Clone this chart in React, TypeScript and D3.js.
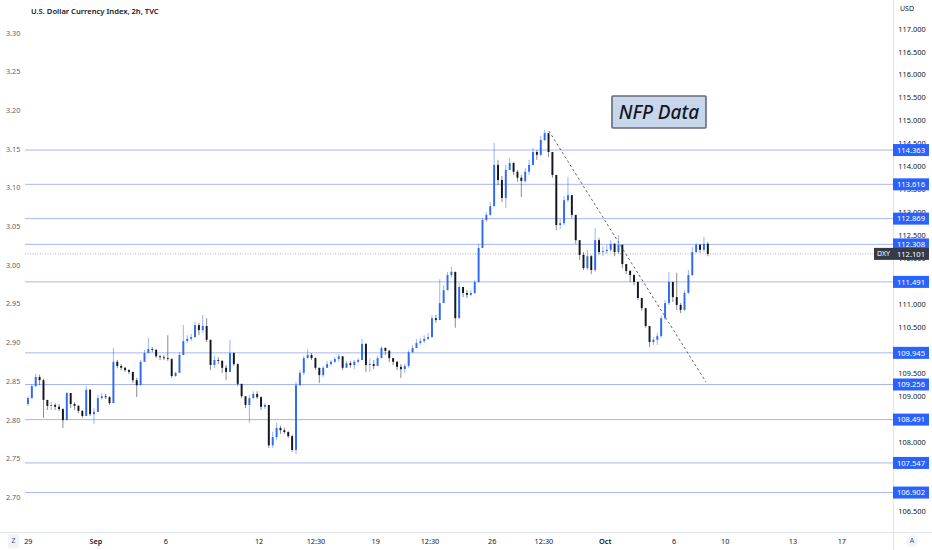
import React from 'react';
import * as d3 from 'd3';

// DXY 4h candles, trading day 0 = Aug 29. open of each candle = previous close
const firstOpen = 108.83;
const closes = [
  108.96, 109.22, 109.42, 109.35, 108.92, 108.79, 108.81, 108.77, 108.72, 108.48,
  109.07, 108.83, 108.79, 108.68, 108.57, 109.14, 108.61, 108.66, 108.96, 109.0,
  108.98, 108.85, 109.75, 109.66, 109.62, 109.57, 109.53, 109.35, 109.24, 109.75,
  109.94, 110.03, 110.01, 109.87, 109.85, 109.83, 109.81, 109.44, 109.51, 109.9,
  110.2, 110.25, 110.29, 110.55, 110.44, 110.53, 110.23, 109.68, 109.79, 109.77,
  109.62, 109.53, 109.94, 109.7, 109.27, 109.0, 108.81, 108.96, 109.05, 108.98,
  108.77, 108.81, 107.93, 108.11, 108.31, 108.26, 108.22, 108.13, 107.83, 109.24,
  109.51, 109.83, 109.9, 109.83, 109.62, 109.46, 109.62, 109.7, 109.75, 109.81,
  109.87, 109.62, 109.72, 109.68, 109.75, 109.79, 110.14, 109.68, 109.7, 109.66,
  109.83, 110.05, 109.99, 109.83, 109.75, 109.64, 109.59, 109.66, 109.96, 110.05,
  110.16, 110.2, 110.25, 110.29, 110.7, 110.66, 111.03, 111.31, 111.64, 111.71,
  110.7, 111.38, 111.25, 111.21, 111.25, 111.49, 112.23, 112.84, 112.95, 113.14,
  114.04, 113.71, 113.32, 113.93, 114.08, 113.89, 113.76, 113.69, 113.89, 114.04,
  114.32, 114.26, 114.58, 114.73, 114.32, 113.82, 112.73, 112.77, 113.27, 113.38,
  112.95, 112.4, 112.08, 111.79, 112.05, 111.75, 112.4, 112.14, 112.16, 112.19,
  112.32, 112.14, 112.3, 111.88, 111.73, 111.64, 111.49, 111.14, 110.92, 110.53,
  110.18, 110.23, 110.31, 110.7, 111.03, 111.49, 111.16, 110.99, 110.88, 111.25,
  111.64, 112.14, 112.3, 112.19, 112.32, 112.1,
];
const highs = [
  109.0, 109.27, 109.49, 109.47, 109.38, 108.92, 108.87, 108.85, 108.83, 108.74,
  109.09, 109.03, 108.87, 108.81, 108.7, 109.22, 109.16, 108.74, 109.03, 109.07,
  109.05, 109.0, 110.05, 109.79, 109.7, 109.64, 109.59, 109.53, 109.4, 109.79,
  110.01, 110.27, 110.07, 110.03, 109.9, 109.9, 110.33, 109.83, 109.53, 109.96,
  110.55, 110.33, 110.36, 110.62, 110.6, 110.77, 110.7, 110.23, 109.88, 109.85,
  109.79, 109.68, 110.23, 109.96, 109.72, 109.24, 109.0, 109.03, 109.11, 109.11,
  109.0, 108.85, 108.81, 108.22, 108.42, 108.36, 108.31, 108.24, 108.16, 109.31,
  109.57, 109.88, 110.03, 109.94, 109.85, 109.62, 109.66, 109.77, 109.79, 109.85,
  109.92, 109.87, 109.77, 109.77, 109.79, 109.83, 110.25, 110.16, 109.83, 109.79,
  109.88, 110.09, 110.07, 110.01, 109.83, 109.77, 109.7, 109.7, 110.01, 110.12,
  110.25, 110.27, 110.33, 110.38, 110.77, 110.77, 111.55, 111.42, 111.71, 111.82,
  111.71, 111.47, 111.36, 111.31, 111.31, 111.53, 112.32, 112.88, 113.01, 113.23,
  114.52, 114.15, 113.8, 114.04, 114.19, 114.1, 113.93, 113.82, 113.97, 114.15,
  114.41, 114.36, 114.67, 114.8, 114.73, 114.32, 113.82, 112.86, 113.36, 113.78,
  113.38, 112.95, 112.4, 112.14, 112.19, 112.08, 112.66, 112.45, 112.27, 112.3,
  112.4, 112.34, 112.51, 112.3, 111.88, 111.75, 111.66, 111.49, 111.14, 110.92,
  110.53, 110.29, 110.38, 110.75, 111.1, 111.71, 111.49, 111.69, 111.03, 111.31,
  111.75, 112.25, 112.34, 112.32, 112.47, 112.36,
];
const lows = [
  108.79, 108.94, 109.2, 109.24, 108.53, 108.7, 108.7, 108.7, 108.68, 108.31,
  108.48, 108.74, 108.7, 108.63, 108.53, 108.57, 108.57, 108.4, 108.66, 108.92,
  108.94, 108.81, 108.85, 109.61, 109.57, 109.53, 109.48, 109.29, 108.98, 109.46,
  109.75, 109.94, 109.96, 109.83, 109.79, 109.79, 109.77, 109.4, 109.42, 109.51,
  109.92, 110.16, 110.2, 110.27, 110.33, 110.38, 110.18, 109.57, 109.61, 109.7,
  109.51, 109.35, 109.53, 109.66, 109.22, 108.96, 108.74, 108.42, 108.94, 108.94,
  108.7, 108.72, 107.87, 107.87, 108.05, 108.18, 108.18, 108.09, 107.79, 107.74,
  109.22, 109.46, 109.83, 109.79, 109.57, 109.29, 109.42, 109.62, 109.66, 109.72,
  109.75, 109.57, 109.62, 109.62, 109.59, 109.72, 109.79, 109.53, 109.53, 109.59,
  109.68, 109.83, 109.9, 109.75, 109.68, 109.57, 109.4, 109.51, 109.62, 109.94,
  110.05, 110.12, 110.16, 110.23, 110.27, 110.6, 110.66, 111.03, 111.31, 111.58,
  110.49, 110.7, 111.16, 111.14, 111.18, 111.23, 111.47, 112.23, 112.8, 112.93,
  113.14, 113.6, 113.23, 113.1, 113.93, 113.82, 113.67, 113.34, 113.65, 113.82,
  114.02, 114.15, 114.23, 114.56, 114.21, 113.76, 112.62, 112.64, 112.73, 113.23,
  112.88, 112.32, 111.97, 111.75, 111.75, 111.66, 111.71, 112.08, 112.05, 112.1,
  112.14, 112.05, 112.1, 111.79, 111.66, 111.49, 111.42, 111.1, 110.86, 110.49,
  110.07, 110.12, 110.12, 110.27, 110.66, 110.99, 111.05, 110.88, 110.81, 110.86,
  111.23, 111.62, 112.12, 112.12, 112.14, 112.05,
];
const candlesPerDay = 6;

// horizontal levels drawn on the chart
const levels = [114.363, 113.616, 112.869, 112.308, 111.491, 109.945, 109.256, 108.491, 107.547, 106.902];
const lastPrice = 112.101;

const priceTicks = [117, 116.5, 116, 115.5, 115, 114.5, 114, 113.5, 113, 112.5, 112, 111.5, 111, 110.5, 110, 109.5, 109, 108.5, 108, 107.5, 107, 106.5];
const leftTicks = [3.3, 3.25, 3.2, 3.15, 3.1, 3.05, 3.0, 2.95, 2.9, 2.85, 2.8, 2.75, 2.7];

const dateLabels = ['29', 'Sep', '6', '12', '12:30', '19', '12:30', '26', '12:30', 'Oct', '6', '10', '13', '17'];
const dateDays = [0.1, 3, 6, 10, 12.44, 15, 17.33, 20, 22.22, 24.85, 27.8, 30, 32.9, 35];
const monthLabels = ['Sep', 'Oct'];

// dashed trend line (trading day, price)
const trendFrom = { day: 22.43, price: 114.78 };
const trendTo = { day: 29.17, price: 109.31 };

const UP = '#2f6bf2';
const DOWN = '#131722';
const LEVEL = '#a6b7f4';
const FONT = '"Noto Sans", Roboto, sans-serif';

export default function App() {
  const width = 932;
  const height = 550;
  const plotLeft = 25;
  const plotRight = 893;
  const plotBottom = 532;

  const x = d3.scaleLinear().domain([0, 35]).range([26, 26 + 35 * 23.31]);
  const y = d3.scaleLinear().domain([106.5, 117]).range([511, 29]);
  const yLeft = d3.scaleLinear().domain([2.7, 3.3]).range([497.4, 33]);

  const candles = closes.map((c, i) => {
    const o = i === 0 ? firstOpen : closes[i - 1];
    return {
      i,
      o,
      c,
      h: Math.max(highs[i], o, c),
      l: Math.min(lows[i], o, c),
    };
  });

  const slot = x(1 / candlesPerDay) - x(0);
  const bodyW = slot * 0.5;

  // tick labels completely covered by a level label are not drawn
  const markers = [...levels, lastPrice];
  const visibleTicks = priceTicks.filter(t => markers.every(v => Math.abs(y(t) - y(v)) > 4.5));

  return (
    <div>
      <style>{`body{margin:0;background:#fff}`}</style>
      <svg width={width} height={height} style={{ display: 'block', fontFamily: FONT }}>
        <rect width={width} height={height} fill="#ffffff" />

        {/* title */}
        <text x={31} y={14} fontSize={7.6} fontWeight={600} fill="#131722">
          U.S. Dollar Currency Index, 2h, TVC
        </text>

        {/* left scale */}
        {leftTicks.map(t => (
          <text key={t} x={6} y={yLeft(t)} dy="0.35em" fontSize={7.2} fill="#5d606b">
            {t.toFixed(2)}
          </text>
        ))}

        {/* horizontal levels */}
        {levels.map(v => (
          <line key={v} x1={plotLeft} x2={plotRight} y1={y(v)} y2={y(v)} stroke={LEVEL} strokeWidth={1} />
        ))}
        <line
          x1={plotLeft}
          x2={plotRight}
          y1={y(lastPrice)}
          y2={y(lastPrice)}
          stroke="#9a9da6"
          strokeWidth={0.8}
          strokeDasharray="1,1.5"
        />

        {/* candles */}
        {candles.map(d => {
          const cx = x((d.i + 0.5) / candlesPerDay);
          const color = d.c >= d.o ? UP : DOWN;
          const top = y(Math.max(d.o, d.c));
          const bh = Math.max(0.8, Math.abs(y(d.o) - y(d.c)));
          return (
            <g key={d.i}>
              <line x1={cx} x2={cx} y1={y(d.h)} y2={y(d.l)} stroke={color} strokeWidth={0.9} opacity={0.55} />
              <rect x={cx - bodyW / 2} y={top} width={bodyW} height={bh} fill={color} />
            </g>
          );
        })}

        {/* trend line */}
        <line
          x1={x(trendFrom.day)}
          y1={y(trendFrom.price)}
          x2={x(trendTo.day)}
          y2={y(trendTo.price)}
          stroke="#50535e"
          strokeWidth={0.9}
          strokeDasharray="2.5,2.5"
        />

        {/* NFP annotation */}
        <rect x={612} y={96} width={94} height={32} fill="#c8d6eb" stroke="#646b78" strokeWidth={1.6} rx={1} />
        <text
          x={659}
          y={112}
          dy="0.36em"
          textAnchor="middle"
          fontSize={19}
          fontStyle="italic"
          fontWeight={500}
          fill="#131722"
        >
          NFP Data
        </text>

        {/* right scale */}
        <line x1={plotRight + 0.5} x2={plotRight + 0.5} y1={0} y2={height} stroke="#e0e3eb" />
        <text x={900} y={9} dy="0.35em" fontSize={7} fill="#131722">USD</text>
        {visibleTicks.map(t => (
          <text key={t} x={912} y={y(t)} dy="0.35em" textAnchor="middle" fontSize={7.4} fill="#131722">
            {t.toFixed(3)}
          </text>
        ))}
        {levels.map(v => (
          <g key={v}>
            <rect x={893} y={y(v) - 6} width={36} height={12} fill="#2962ff" />
            <text x={911} y={y(v)} dy="0.36em" textAnchor="middle" fontSize={7.6} fill="#ffffff">
              {v.toFixed(3)}
            </text>
          </g>
        ))}
        <rect x={874} y={y(lastPrice) - 6} width={19} height={12} fill="#363a45" />
        <text x={883.5} y={y(lastPrice)} dy="0.36em" textAnchor="middle" fontSize={7} fill="#ffffff">DXY</text>
        <rect x={893} y={y(lastPrice) - 6} width={36} height={12} fill="#363a45" />
        <text x={911} y={y(lastPrice)} dy="0.36em" textAnchor="middle" fontSize={7.6} fill="#ffffff">
          {lastPrice.toFixed(3)}
        </text>

        {/* time scale */}
        <line x1={0} x2={width} y1={plotBottom + 0.5} y2={plotBottom + 0.5} stroke="#e0e3eb" />
        {dateLabels.map((lab, k) => (
          <text
            key={k}
            x={x(dateDays[k])}
            y={541}
            dy="0.35em"
            textAnchor="middle"
            fontSize={7.3}
            fontWeight={monthLabels.includes(lab) ? 600 : 400}
            fill="#131722"
          >
            {lab}
          </text>
        ))}
        <rect x={8} y={534} width={11} height={14} rx={2} fill="#f0f3fa" />
        <text x={13.5} y={541} dy="0.35em" textAnchor="middle" fontSize={7} fill="#50535e">Z</text>
        <circle cx={912} cy={541} r={6} fill="#f0f3fa" />
        <text x={912} y={541} dy="0.35em" textAnchor="middle" fontSize={7} fill="#50535e">A</text>
      </svg>
    </div>
  );
}
